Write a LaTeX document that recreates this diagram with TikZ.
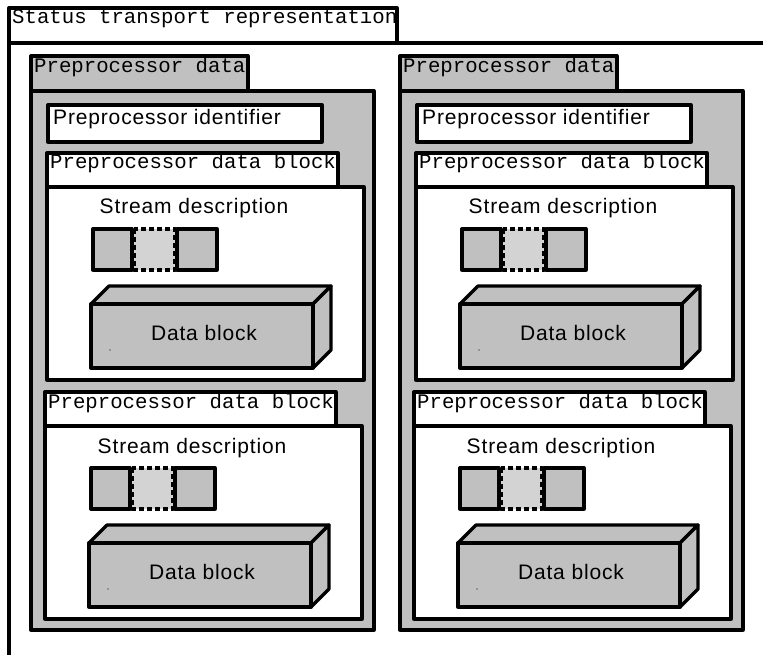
\documentclass[tikz,border=0pt]{standalone}
\usepackage{fontspec}
\setmainfont{Liberation Sans}
\newfontfamily\monofont{Liberation Mono}
\newfontfamily\labelfont[LetterSpace=4]{Liberation Sans}
\definecolor{boxgray}{HTML}{C0C0C0}
\definecolor{slotgray}{HTML}{D3D3D3}
\tikzset{
  frame/.style={draw=black, line width=3.3pt, line join=round},
  tabtext/.style={anchor=base west, inner sep=0pt, font=\monofont\fontsize{20.7}{24}\selectfont},
  labeltext/.style={anchor=base, inner sep=0pt, font=\labelfont\fontsize{21}{25}\selectfont},
}
\begin{document}
\begin{tikzpicture}[x=1pt, y=-1pt]
	\useasboundingbox (0,0) rectangle (763,655);
	%Status transport representation
	\path[frame, fill=white] (9,8) rectangle (397,43);
	\node[tabtext] (str) at (12,24) {Status transport representation};
	\draw[frame] (763,43) -- (9,43) -- (9,655);

	%Preprocessor data columns
	\foreach \col/\cx in {1/31, 2/400} {
	\begin{scope}[shift={(\cx,56)}]
		\path[frame, fill=boxgray] (0,0) rectangle (217,35);
		\path[frame, fill=boxgray] (0,35) rectangle (343,574);
		\node[tabtext] (ppd-\col) at (3,17) {Preprocessor data};

		%Identifier
		\path[frame, fill=white] (17,49) rectangle (291,86);
		\node[labeltext, anchor=base west] (ppid-\col) at (22,69) {Preprocessor identifier};

		%Data blocks
		\foreach \blk/\bx/\by in {1/16/97, 2/14/336} {
		\begin{scope}[shift={(\bx,\by)}]
			\path[frame, fill=white] (0,0) rectangle (291,34);
			\path[frame, fill=white] (0,34) rectangle (317,227);
			\node[tabtext] (pdb-\col-\blk) at (3,16) {Preprocessor data block};
			\node[labeltext] (sd-\col-\blk) at (147,61) {Stream description};

			%Stream slots
			\path[frame, fill=boxgray] (46,76) rectangle (85,117);
			\path[frame, fill=slotgray, dash pattern=on 5pt off 3pt] (87,76) rectangle (128,117);
			\path[frame, fill=boxgray] (130,76) rectangle (170,117);

			%Block
			\path[frame, fill=boxgray] (44,151) -- (62,133) -- (284,133) -- (266,151) -- cycle;
			\path[frame, fill=boxgray] (266,151) -- (284,133) -- (284,197) -- (266,215) -- cycle;
			\path[frame, fill=boxgray] (44,151) rectangle (266,215);
			\node[labeltext] (db-\col-\blk) at (157,187) {Data block};
			\fill (63,197) circle (0.7);
		\end{scope}
		}
	\end{scope}
	}
\end{tikzpicture}
\end{document}
